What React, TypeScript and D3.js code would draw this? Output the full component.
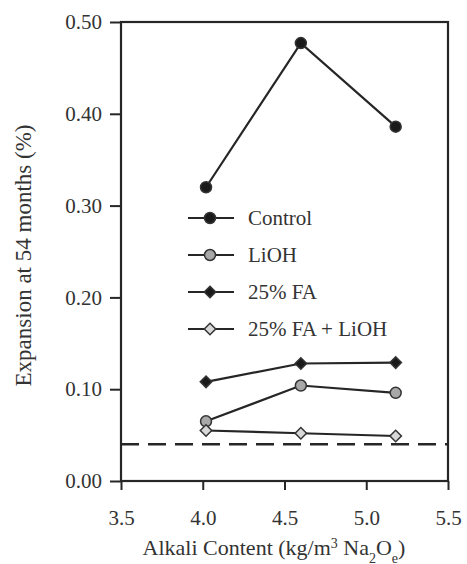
import React, { useRef, useEffect } from 'react';
import * as d3 from 'd3';

// alkali content (kg/m3 Na2Oe)
const alkali = [4.02, 4.6, 5.18];

// expansion at 54 months (%)
const control = [0.32, 0.477, 0.386];
const lioh = [0.065, 0.104, 0.096];
const fa25 = [0.108, 0.128, 0.129];
const faLioh = [0.055, 0.052, 0.049];

const limitLine = 0.04;

const xTicks = [3.5, 4.0, 4.5, 5.0, 5.5];
const yTicks = [0, 0.1, 0.2, 0.3, 0.4, 0.5];

const seriesNames = ['Control', 'LiOH', '25% FA', '25% FA + LiOH'];

const App = () => {
  const svgRef = useRef<SVGSVGElement>(null);

  useEffect(() => {
    const width = 467;
    const height = 564;
    const margin = { top: 22, right: 19, bottom: 83, left: 121 };
    const ink = '#262626';
    const font = 'Liberation Serif, Times New Roman, DejaVu Serif, serif';

    const svg = d3.select(svgRef.current);
    svg.selectAll('*').remove();

    svg.append('rect').attr('width', width).attr('height', height).attr('fill', '#fff');

    const x = d3.scaleLinear().domain([3.5, 5.5]).range([margin.left, width - margin.right]);
    const y = d3.scaleLinear().domain([0, 0.5]).range([height - margin.bottom, margin.top]);

    // frame
    svg.append('rect')
      .attr('x', x(3.5))
      .attr('y', y(0.5))
      .attr('width', x(5.5) - x(3.5))
      .attr('height', y(0) - y(0.5))
      .attr('fill', 'none')
      .attr('stroke', ink)
      .attr('stroke-width', 2.2);

    // axes
    const xAxis = svg.append('g')
      .attr('transform', `translate(0,${y(0)})`)
      .call(d3.axisBottom(x).tickValues(xTicks).tickFormat(d3.format('.1f')).tickSize(9).tickPadding(20));
    const yAxis = svg.append('g')
      .attr('transform', `translate(${x(3.5)},0)`)
      .call(d3.axisLeft(y).tickValues(yTicks).tickFormat(d3.format('.2f')).tickSize(11).tickPadding(8));

    [xAxis, yAxis].forEach((ax) => {
      ax.attr('font-family', font).attr('font-size', 21);
      ax.select('.domain').remove();
      ax.selectAll('line').attr('stroke', ink).attr('stroke-width', 2);
      ax.selectAll('text').attr('fill', '#333');
    });

    // dashed limit line
    svg.append('line')
      .attr('x1', x(3.5))
      .attr('x2', x(5.5))
      .attr('y1', y(limitLine))
      .attr('y2', y(limitLine))
      .attr('stroke', ink)
      .attr('stroke-width', 2.5)
      .attr('stroke-dasharray', '18 9');

    const line = d3.line<number>()
      .x((d, i) => x(alkali[i]))
      .y((d) => y(d));

    const styles = [
      { values: control, shape: 'circle', fill: '#1a1a1a' },
      { values: lioh, shape: 'circle', fill: '#a8a8a8' },
      { values: fa25, shape: 'diamond', fill: '#1a1a1a' },
      { values: faLioh, shape: 'diamond', fill: '#d8d8d8' },
    ];

    const marker = (g, shape, fill, cx, cy) => {
      if (shape === 'circle') {
        g.append('circle')
          .attr('cx', cx).attr('cy', cy).attr('r', 5.5)
          .attr('fill', fill).attr('stroke', '#333').attr('stroke-width', 1.5);
      } else {
        g.append('path')
          .attr('d', d3.symbol(d3.symbolSquare, 66)())
          .attr('transform', `translate(${cx},${cy}) rotate(45)`)
          .attr('fill', fill).attr('stroke', '#333').attr('stroke-width', 1.5);
      }
    };

    styles.forEach((s) => {
      const g = svg.append('g');
      g.append('path')
        .attr('d', line(s.values))
        .attr('fill', 'none')
        .attr('stroke', ink)
        .attr('stroke-width', 2.2);
      s.values.forEach((v, i) => marker(g, s.shape, s.fill, x(alkali[i]), y(v)));
    });

    const text = (sel, size = 21) => sel
      .attr('fill', '#333')
      .attr('font-family', font)
      .attr('font-size', size);

    // legend
    const legend = svg.append('g').attr('transform', 'translate(188,218)');
    seriesNames.forEach((name, i) => {
      const row = legend.append('g').attr('transform', `translate(0,${i * 37})`);
      row.append('line')
        .attr('x1', 0).attr('x2', 46)
        .attr('stroke', ink).attr('stroke-width', 2.2);
      marker(row, styles[i].shape, styles[i].fill, 22, 0);
      row.append('text')
        .attr('x', 60)
        .attr('dy', '0.35em')
        .call(text)
        .text(name);
    });

    // axis titles
    const xTitle = svg.append('text')
      .attr('x', 274)
      .attr('y', 555)
      .attr('text-anchor', 'middle')
      .call(text, 22);
    xTitle.append('tspan').text('Alkali Content (kg/m');
    xTitle.append('tspan').attr('baseline-shift', 'super').attr('font-size', 14).text('3');
    xTitle.append('tspan').text(' Na');
    xTitle.append('tspan').attr('baseline-shift', 'sub').attr('font-size', 14).text('2');
    xTitle.append('tspan').text('O');
    xTitle.append('tspan').attr('baseline-shift', 'sub').attr('font-size', 14).text('e');
    xTitle.append('tspan').text(')');

    svg.append('text')
      .attr('transform', `translate(31,${(y(0) + y(0.5)) / 2 + 4}) rotate(-90)`)
      .attr('text-anchor', 'middle')
      .call(text, 23)
      .text('Expansion at 54 months (%)');
  }, []);

  return (
    <div style={{ position: 'absolute', left: 0, top: 0 }}>
      <svg ref={svgRef} width={467} height={564} style={{ display: 'block' }} />
    </div>
  );
};

export default App;
